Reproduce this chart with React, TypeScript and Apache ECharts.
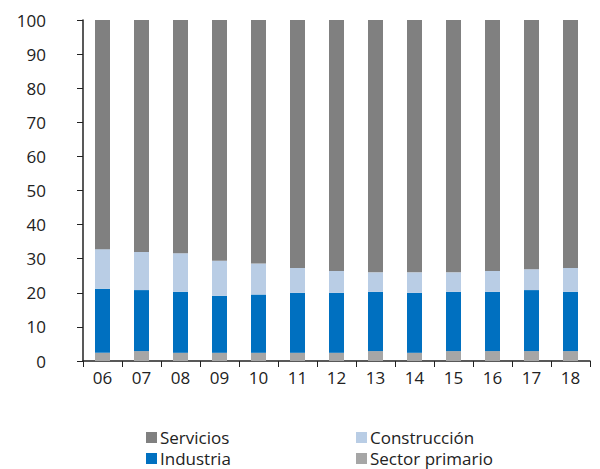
import React, { useEffect, useRef } from "react";
import * as echarts from "echarts";

const categories = ["06", "07", "08", "09", "10", "11", "12", "13", "14", "15", "16", "17", "18"];
// cumulative tops
const primario = [2.4, 2.9, 2.4, 2.4, 2.4, 2.4, 2.4, 2.9, 2.4, 2.9, 2.9, 2.9, 2.9];
const industriaTop = [21.2, 20.8, 20.3, 19.1, 19.5, 20.0, 20.0, 20.3, 20.0, 20.3, 20.3, 20.8, 20.3];
const construccionTop = [32.8, 32.0, 31.6, 29.4, 28.6, 27.3, 26.4, 26.0, 26.0, 26.0, 26.4, 26.9, 27.3];

const industria = industriaTop.map((v, i) => +(v - primario[i]).toFixed(1));
const construccion = construccionTop.map((v, i) => +(v - industriaTop[i]).toFixed(1));
const servicios = construccionTop.map((v) => +(100 - v).toFixed(1));

const yTicks = { min: 0, max: 100, interval: 10 };

export default function App() {
  const ref = useRef<HTMLDivElement>(null);
  useEffect(() => {
    if (!ref.current) return;
    const chart = echarts.init(ref.current, null, { renderer: "svg" });
    const font = "Open Sans";
    const bar = (name: string, data: number[], color: string) => ({
      name,
      type: "bar",
      stack: "total",
      data,
      barWidth: 15,
      itemStyle: { color },
    });
    const legendText = { fontSize: 17, color: "#222", fontFamily: font, lineHeight: 21, padding: [0, 0, 0, -2] };
    chart.setOption({
      animation: false,
      textStyle: { fontFamily: font },
      grid: { left: 83, right: 10, top: 20, bottom: 108 },
      xAxis: {
        type: "category",
        data: categories,
        axisLine: { lineStyle: { color: "#222", width: 1.5 } },
        axisTick: { show: true, inside: false, length: 6, lineStyle: { color: "#222" } },
        axisLabel: { color: "#222", fontSize: 17, fontFamily: font, margin: 8 },
      },
      yAxis: {
        type: "value",
        min: yTicks.min,
        max: yTicks.max,
        interval: yTicks.interval,
        splitLine: { show: false },
        axisLine: { show: true, lineStyle: { color: "#222", width: 1.5 } },
        axisTick: { show: true, length: 6, lineStyle: { color: "#222" } },
        axisLabel: { color: "#222", fontSize: 17, fontFamily: font, margin: 37 },
      },
      legend: [
        {
          orient: "vertical",
          left: 146,
          top: 427,
          data: ["Servicios", "Industria"],
          itemWidth: 11,
          itemHeight: 11,
          itemGap: 0,
          icon: "rect",
          textStyle: legendText,
          padding: 0,
        },
        {
          orient: "vertical",
          left: 356,
          top: 427,
          data: ["Construcción", "Sector primario"],
          itemWidth: 11,
          itemHeight: 11,
          itemGap: 0,
          icon: "rect",
          textStyle: legendText,
          padding: 0,
        },
      ],
      series: [
        bar("Sector primario", primario, "#a6a6a6"),
        bar("Industria", industria, "#0070c0"),
        bar("Construcción", construccion, "#b9cde5"),
        bar("Servicios", servicios, "#808080"),
      ],
    });
    return () => chart.dispose();
  }, []);
  return <div ref={ref} style={{ width: 600, height: 469, position: "absolute", left: 0, top: 0 }} />;
}
